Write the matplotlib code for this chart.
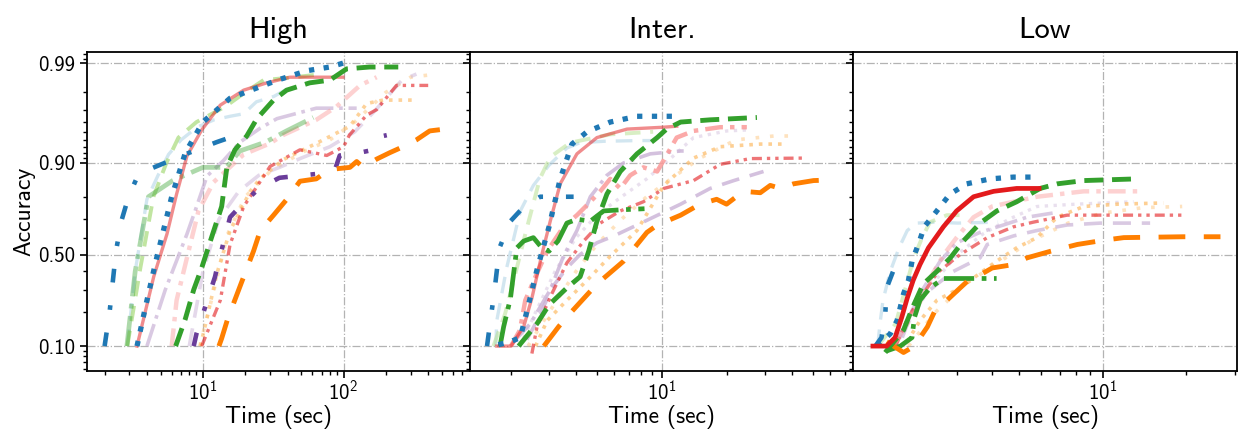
import matplotlib
matplotlib.use("Agg")
import matplotlib.pyplot as plt
from matplotlib.ticker import FixedLocator, FuncFormatter, NullFormatter

plt.rcParams['font.family'] = 'cmss10'
plt.rcParams['mathtext.fontset'] = 'cm'
plt.rcParams['axes.unicode_minus'] = False
plt.rcParams['axes.formatter.use_mathtext'] = True

# ---------------------------------------------------------------- data
panel_titles = ['High', 'Inter.', 'Low']
y_ticks = [0.10, 0.50, 0.90, 0.99]
x_label = 'Time (sec)'
y_label = 'Accuracy'

# High setting: time (sec) / accuracy per method
high_time = {
    'a': [2.0, 2.17, 2.41, 2.63, 2.96, 3.5, 4.2, 8.0, 12.6, 17.4],
    'b': [2.9, 3.3, 4.0, 4.8, 5.7, 7.0, 9.1, 12, 15.6, 19.5, 24, 32, 44],
    'c': [3.4, 3.9, 4.6, 6.0, 7.5, 10, 15.6, 22, 34, 55, 80, 100],
    'd': [2.9, 3.6, 4.45, 5.5, 6.7, 9, 14.4, 20, 27, 45, 70],
    'e': [6.4, 7.5, 8.6, 9.8, 11.3, 13.6, 14.8, 16.9, 20.5, 24.2, 31.8, 39.4, 57.5, 80, 105, 153, 245],
    'f': [2.88, 3.3, 4.1, 6.1, 10, 14.7, 18.3, 28, 39.3, 61],
    'g': [3.4, 4.47, 5.55, 6.5, 7.7, 9.8, 13.3, 19.5, 28.5, 41.6, 64, 99],
    'h': [6.0, 6.5, 7.7, 9.3, 11.9, 19.5, 30, 37, 64, 89, 131, 172],
    'i': [9.8, 13.3, 15.6, 19.5, 23, 30, 49, 76, 100, 110, 146, 172, 238, 400],
    'j': [9.6, 10.7, 12.6, 15.6, 21.7, 25.4, 37.3, 64, 111, 146, 191, 330],
    'k': [9.5, 12, 15, 20, 30, 50, 80, 120, 200, 300, 460],
    'l': [13, 13.6, 15, 19.5, 22.9, 25.6, 31.8, 39.5, 49, 64, 80, 111, 124, 138, 172, 213, 265, 330, 410, 525],
    'm': [4.0, 5.4, 7.7, 8.8, 10.7, 14, 18.4, 25.6, 33.6, 64, 124],
    'n': [8, 10, 13, 18, 25, 35, 50, 80, 120, 170, 260, 330],
    'p': [8.6, 9.0, 12.2, 12.6, 15.6, 18.4, 25, 35, 46, 70, 87, 94, 130, 163, 191, 203],
}
high_acc = {
    'a': [0.10, 0.20, 0.52, 0.69, 0.80, 0.875, 0.886, 0.92, 0.937, 0.946],
    'b': [0.10, 0.40, 0.79, 0.87, 0.917, 0.94, 0.955, 0.962, 0.965, 0.967, 0.975, 0.978, 0.983],
    'c': [0.10, 0.22, 0.45, 0.80, 0.92, 0.96, 0.977, 0.981, 0.985, 0.988, 0.989, 0.99],
    'd': [0.10, 0.425, 0.80, 0.90, 0.943, 0.96, 0.972, 0.98, 0.985, 0.986, 0.987],
    'e': [0.10, 0.176, 0.30, 0.42, 0.58, 0.76, 0.89, 0.925, 0.945, 0.963, 0.976, 0.981, 0.984, 0.985, 0.9885, 0.989, 0.989],
    'f': [0.10, 0.40, 0.80, 0.855, 0.89, 0.89, 0.923, 0.937, 0.951, 0.964],
    'g': [0.10, 0.37, 0.62, 0.81, 0.914, 0.952, 0.973, 0.981, 0.984, 0.986, 0.986, 0.986],
    'h': [0.10, 0.25, 0.48, 0.74, 0.85, 0.917, 0.935, 0.946, 0.962, 0.972, 0.983, 0.986],
    'i': [0.10, 0.25, 0.56, 0.76, 0.82, 0.892, 0.925, 0.915, 0.93, 0.946, 0.966, 0.97, 0.983, 0.983],
    'j': [0.10, 0.18, 0.39, 0.64, 0.82, 0.86, 0.907, 0.935, 0.956, 0.974, 0.976, 0.976],
    'k': [0.10, 0.30, 0.62, 0.80, 0.88, 0.92, 0.94, 0.96, 0.98, 0.986, 0.987],
    'l': [0.10, 0.118, 0.176, 0.37, 0.52, 0.64, 0.72, 0.79, 0.853, 0.86, 0.885, 0.89, 0.903, 0.89, 0.908, 0.92, 0.93, 0.94, 0.951, 0.953],
    'm': [0.10, 0.30, 0.62, 0.74, 0.868, 0.905, 0.937, 0.954, 0.963, 0.971, 0.971],
    'n': [0.10, 0.40, 0.70, 0.82, 0.87, 0.89, 0.91, 0.93, 0.95, 0.97, 0.985, 0.987],
    'p': [0.10, 0.13, 0.37, 0.42, 0.71, 0.76, 0.83, 0.863, 0.868, 0.875, 0.885, 0.915, 0.92, 0.925, 0.945, 0.946],
}

# Intermediate setting
inter_time = {
    'a': [1.55, 1.6, 1.68, 1.77, 1.99, 2.3, 2.73, 3.2, 3.9],
    'b': [1.7, 1.72, 1.91, 2.21, 2.54, 3.0, 3.63, 4.18, 5.37, 7.66, 9.1],
    'c': [1.75, 1.99, 2.21, 2.41, 2.64, 3.0, 3.38, 3.83, 4.5, 5.76, 7.66, 10.5, 11.9],
    'd': [1.66, 1.88, 2.06, 2.33, 2.72, 3.04, 3.76, 5.76, 9.1],
    'e': [2.17, 2.64, 3.0, 3.63, 4.18, 4.58, 5.0, 5.56, 6.41, 7.66, 9.5, 10.5, 12.2, 16.7, 27.5],
    'f': [1.78, 1.85, 1.99, 2.13, 2.29, 2.54, 2.78, 3.0, 3.3, 3.63, 4.04, 4.66, 5.37, 6.41, 8.3],
    'g': [1.72, 2.0, 2.29, 2.5, 2.78, 3.04, 3.38, 4.04, 5.0, 6.89, 10.2, 11.7],
    'h': [2.0, 2.2, 2.33, 2.64, 2.94, 3.5, 4.04, 4.66, 5.18, 5.76, 6.41, 7.13, 8.2, 9.5, 11.7, 14, 18.6, 24.7],
    'i': [2.5, 2.64, 3.09, 3.63, 4.34, 5.18, 6.41, 8.2, 10.2, 14, 18.6, 25.6, 45.2],
    'j': [2.6, 2.94, 3.63, 4.5, 5.76, 7.66, 10.2, 14, 18.6, 28.5, 36.6],
    'k': [2.4, 3.0, 4.0, 5.0, 6.5, 8.5, 11, 15, 22, 33, 41],
    'l': [2.84, 3.32, 3.6, 5.0, 6.64, 8.52, 9.8, 10.5, 12.2, 15, 17.9, 19.9, 23.8, 28.5, 31.7, 35.3, 40.6, 50.3, 62.3],
    'm': [2.06, 2.46, 3.04, 3.5, 4.04, 4.66, 5.56, 6.64, 8.83, 12.2, 12.6],
    'n': [2.37, 2.73, 3.09, 3.63, 4.18, 5.0, 6.0, 8.0, 12.2, 16.7, 21.5, 29.5],
    'o': [2.2, 2.6, 3.2, 4.0, 5.0, 6.5, 8.5, 11, 14, 20, 24.7],
}
inter_acc = {
    'a': [0.10, 0.16, 0.30, 0.54, 0.69, 0.76, 0.80, 0.80, 0.80],
    'b': [0.10, 0.17, 0.42, 0.74, 0.84, 0.895, 0.928, 0.936, 0.938, 0.939, 0.939],
    'c': [0.103, 0.11, 0.12, 0.23, 0.41, 0.66, 0.86, 0.934, 0.95, 0.96, 0.965, 0.965, 0.965],
    'd': [0.10, 0.195, 0.35, 0.62, 0.86, 0.912, 0.936, 0.947, 0.95],
    'e': [0.10, 0.16, 0.23, 0.31, 0.37, 0.52, 0.69, 0.81, 0.88, 0.918, 0.943, 0.953, 0.96, 0.962, 0.964],
    'f': [0.10, 0.15, 0.26, 0.54, 0.58, 0.60, 0.54, 0.52, 0.58, 0.68, 0.70, 0.69, 0.74, 0.745, 0.75],
    'g': [0.10, 0.10, 0.15, 0.26, 0.50, 0.69, 0.845, 0.918, 0.943, 0.953, 0.955, 0.956],
    'h': [0.10, 0.14, 0.25, 0.39, 0.52, 0.66, 0.72, 0.78, 0.82, 0.86, 0.83, 0.87, 0.89, 0.88, 0.943, 0.951, 0.955, 0.955],
    'i': [0.085, 0.15, 0.28, 0.45, 0.58, 0.68, 0.74, 0.78, 0.83, 0.855, 0.897, 0.909, 0.91],
    'j': [0.10, 0.17, 0.25, 0.35, 0.49, 0.64, 0.84, 0.91, 0.93, 0.934, 0.934],
    'k': [0.10, 0.20, 0.40, 0.56, 0.70, 0.80, 0.86, 0.91, 0.94, 0.945, 0.945],
    'l': [0.10, 0.15, 0.18, 0.33, 0.46, 0.63, 0.68, 0.69, 0.72, 0.77, 0.79, 0.77, 0.82, 0.815, 0.84, 0.83, 0.845, 0.855, 0.857],
    'm': [0.11, 0.16, 0.30, 0.49, 0.64, 0.80, 0.87, 0.90, 0.918, 0.923, 0.923],
    'n': [0.115, 0.19, 0.31, 0.42, 0.50, 0.57, 0.61, 0.68, 0.77, 0.83, 0.855, 0.88],
    'o': [0.10, 0.20, 0.40, 0.60, 0.72, 0.80, 0.86, 0.91, 0.943, 0.951, 0.952],
}

# Low setting
low_time = {
    'a': [1.52, 1.6, 1.65, 1.67, 1.78, 1.92],
    'b': [1.55, 1.58, 1.62, 1.72, 1.85, 1.98, 2.14, 2.53, 3.0, 4.2],
    'c': [1.54, 1.72, 1.82, 1.92, 2.0, 2.06, 2.17, 2.28, 2.53, 2.82, 3.24, 3.94, 4.77, 5.9],
    'd': [1.55, 1.8, 2.09, 2.24, 2.39, 2.75, 3.3],
    'e': [1.65, 1.72, 1.92, 2.0, 2.09, 2.26, 2.53, 2.83, 3.15, 3.62, 4.16, 4.9, 5.95, 6.86, 8.55, 13.3],
    'f': [1.67, 1.87, 2.06, 2.1, 2.2, 2.39, 2.67, 3.16, 4.15],
    'g': [1.49, 1.67, 1.79, 1.89, 1.98, 2.08, 2.2, 2.36, 2.67, 2.98, 3.43, 4.05, 4.9, 5.9],
    'h': [1.75, 1.92, 2.22, 2.45, 2.68, 2.98, 3.43, 4.0, 4.77, 5.8, 8.54, 13.3],
    'i': [1.8, 1.99, 2.53, 3.07, 3.84, 4.77, 5.63, 7.44, 11.3, 19.5],
    'j': [1.98, 2.2, 2.53, 3.07, 3.62, 4.15, 4.9, 5.79, 6.85, 8.54, 11.3, 16.5],
    'k': [2.0, 2.5, 3.2, 4.2, 5.5, 7.5, 10, 14, 19.3],
    'l': [1.67, 1.92, 2.1, 2.34, 2.5, 2.75, 3.07, 3.34, 3.62, 4.0, 4.77, 5.34, 6.5, 8.1, 10.1, 11.9, 19.5, 26.5],
    'm': [1.85, 2.2, 2.6, 2.98, 3.62, 4.39, 5.34, 6.6],
    'n': [1.9, 2.14, 2.9, 3.62, 3.84, 4.78, 5.79, 7.44, 9.8, 14.8],
    'o': [1.8, 2.1, 2.5, 3.0, 3.7, 4.6, 5.8, 8, 12.9],
}
low_acc = {
    'a': [0.10, 0.12, 0.19, 0.31, 0.42, 0.43],
    'b': [0.10, 0.16, 0.25, 0.40, 0.54, 0.64, 0.68, 0.685, 0.68, 0.685],
    'c': [0.10, 0.13, 0.17, 0.28, 0.35, 0.46, 0.56, 0.66, 0.74, 0.81, 0.845, 0.86, 0.865, 0.865],
    'd': [0.10, 0.16, 0.48, 0.60, 0.685, 0.72, 0.72],
    'e': [0.087, 0.10, 0.14, 0.18, 0.23, 0.33, 0.40, 0.48, 0.58, 0.68, 0.74, 0.78, 0.83, 0.845, 0.855, 0.86],
    'f': [0.09, 0.10, 0.12, 0.18, 0.25, 0.31, 0.36, 0.36, 0.36],
    'g': [0.10, 0.10, 0.12, 0.18, 0.26, 0.35, 0.44, 0.54, 0.66, 0.74, 0.80, 0.82, 0.83, 0.83],
    'h': [0.10, 0.14, 0.25, 0.39, 0.50, 0.60, 0.71, 0.76, 0.78, 0.80, 0.82, 0.82],
    'i': [0.10, 0.18, 0.39, 0.50, 0.60, 0.66, 0.685, 0.72, 0.72, 0.72],
    'j': [0.11, 0.17, 0.25, 0.31, 0.39, 0.46, 0.54, 0.60, 0.71, 0.76, 0.77, 0.775],
    'k': [0.10, 0.20, 0.33, 0.45, 0.58, 0.68, 0.73, 0.755, 0.76],
    'l': [0.11, 0.087, 0.10, 0.15, 0.21, 0.25, 0.31, 0.36, 0.38, 0.42, 0.44, 0.48, 0.52, 0.56, 0.585, 0.60, 0.605, 0.605],
    'm': [0.12, 0.28, 0.46, 0.57, 0.63, 0.67, 0.71, 0.73],
    'n': [0.12, 0.25, 0.40, 0.48, 0.56, 0.61, 0.64, 0.67, 0.68, 0.68],
    'o': [0.10, 0.20, 0.35, 0.50, 0.62, 0.70, 0.76, 0.77, 0.78],
}

# ---------------------------------------------------------------- styles
LOOSE_DASHDOT = (0, (3, 5, 1, 5))
styles = {
    'a': dict(color='#1f78b4', ls=LOOSE_DASHDOT, lw=3.3),
    'b': dict(color='#a6cee3', ls=(0, (5, 3)), lw=2.4),
    'c': dict(color='#1f78b4', ls=(0, (1, 1.8)), lw=3.8),
    'd': dict(color='#b2df8a', ls=(0, (4, 2.5)), lw=2.8),
    'e': dict(color='#33a02c', ls=(0, (3.9, 1.8)), lw=3.5),
    'f': dict(color='#33a02c', ls=(0, (6.4, 1.6, 1, 1.6)), lw=3.4),
    'g': dict(color='#e31a1c', ls='-', lw=2.4),
    'h': dict(color='#fb9a99', ls=(0, (4, 1.6, 1, 1.6)), lw=3.2),
    'i': dict(color='#e31a1c', ls=(0, (3, 1.5, 1, 1.5, 1, 1.5)), lw=2.4),
    'j': dict(color='#fdbf6f', ls=(0, (1, 1.65)), lw=2.6),
    'k': dict(color='#fdbf6f', ls=(0, (1, 3)), lw=2.6),
    'l': dict(color='#ff7f00', ls=(0, (5.5, 3.8)), lw=3.5),
    'm': dict(color='#cab2d6', ls=(0, (6.4, 1.6, 1, 1.6)), lw=2.6),
    'n': dict(color='#cab2d6', ls=(0, (5, 3)), lw=2.6),
    'o': dict(color='#cab2d6', ls=(0, (1, 1.65)), lw=2.4),
    'p': dict(color='#6a3d9a', ls=LOOSE_DASHDOT, lw=3.3),
}
draw_order = ['o', 'k', 'n', 'm', 'j', 'i', 'h', 'b', 'd', 'f', 'g', 'p', 'a', 'l', 'e', 'c']

alpha_high = dict(a=1, b=0.5, c=1, d=0.8, e=1, f=0.4, g=0.5, h=0.45, i=0.6,
                  j=0.7, k=0.45, l=1, m=0.7, n=0.5, o=0.4, p=1)
alpha_inter = dict(a=1, b=0.5, c=1, d=0.5, e=1, f=1, g=0.5, h=0.85, i=0.6,
                   j=0.75, k=0.45, l=1, m=0.8, n=0.8, o=0.4, p=1)
alpha_low = dict(a=1, b=0.5, c=1, d=0.5, e=1, f=1, g=1, h=0.45, i=0.6,
                 j=0.75, k=0.45, l=1, m=0.7, n=0.7, o=0.4, p=1)

panels = [
    (high_time, high_acc, alpha_high, (1.50, 796)),
    (inter_time, inter_acc, alpha_inter, (1.296, 76.9)),
    (low_time, low_acc, alpha_low, (1.268, 30.3)),
]

y_minor = [0.06, 0.07, 0.08, 0.09, 0.2, 0.3, 0.4, 0.6, 0.7, 0.8,
           0.91, 0.92, 0.93, 0.94, 0.95, 0.96, 0.97, 0.98, 0.991, 0.992]

# ---------------------------------------------------------------- figure
fig = plt.figure(figsize=(12.38, 4.32), dpi=100)
axes = fig.subplots(1, 3, sharey=True)
fig.subplots_adjust(left=0.0703, right=0.9989, bottom=0.1412, top=0.8796, wspace=0)

for idx, (ax, title, (times, accs, alphas, xlim)) in enumerate(zip(axes, panel_titles, panels)):
    for key in draw_order:
        if key not in times:
            continue
        st = styles[key]
        lw = st['lw']
        z = 2
        if key == 'g' and alphas[key] >= 1:
            lw = 3.4
            z = 3
        ax.plot(times[key], accs[key], color=st['color'], linestyle=st['ls'],
                linewidth=lw, alpha=alphas[key], zorder=z)
    ax.set_xscale('log')
    ax.set_xlim(*xlim)
    ax.set_title(title, fontsize=22, pad=10)
    ax.set_xlabel(x_label, fontsize=17, labelpad=1)
    ax.xaxis.set_minor_formatter(NullFormatter())
    ax.grid(True, which='major', color='#b3b3b3', linestyle='-.', linewidth=0.9)
    ax.set_axisbelow(True)
    ax.tick_params(which='major', direction='out', length=5, width=1.2, labelsize=15)
    ax.tick_params(which='minor', direction='out', length=3, width=1.0)
    ax.tick_params(axis='x', which='major', pad=1.5)
    for sp in ax.spines.values():
        sp.set_linewidth(1.3)
    if idx > 0:
        ax.tick_params(labelleft=False)

ax0 = axes[0]
ax0.set_yscale('logit')
ax0.set_ylim(0.0576, 0.9923)
ax0.yaxis.set_major_locator(FixedLocator(y_ticks))
ax0.yaxis.set_major_formatter(FuncFormatter(lambda v, pos: f'{v:.2f}'))
ax0.yaxis.set_minor_locator(FixedLocator(y_minor))
ax0.yaxis.set_minor_formatter(NullFormatter())
ax0.set_ylabel(y_label, fontsize=17, labelpad=2)

fig.savefig('out.png', dpi=100)
